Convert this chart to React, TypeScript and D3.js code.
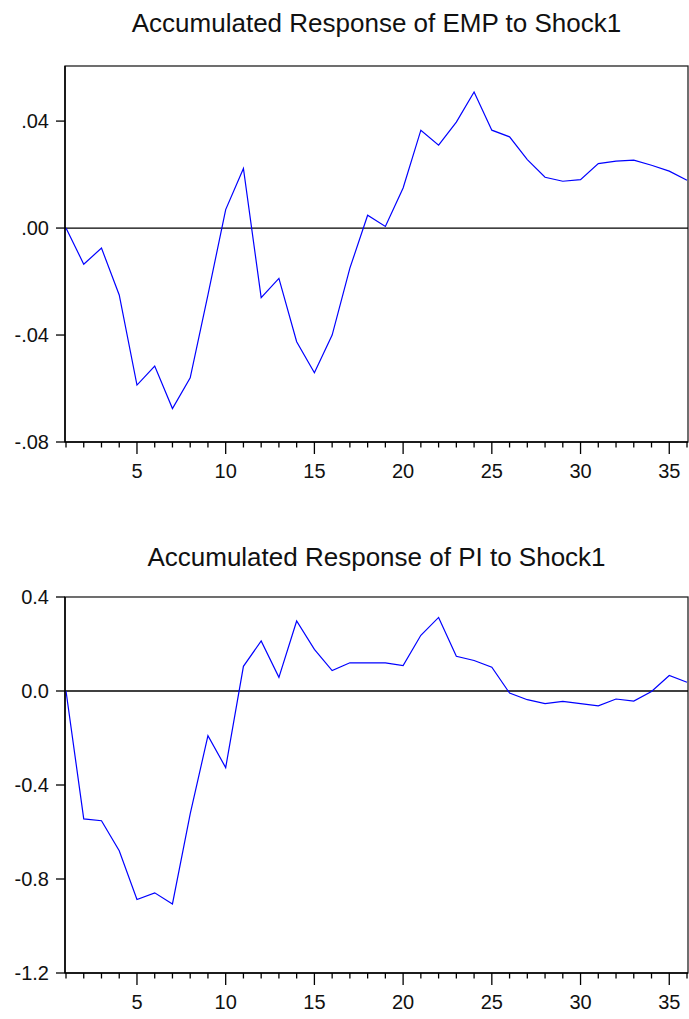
import React from "react";
import * as d3 from "d3";

// Response horizon (periods)
const periods: number[] = d3.range(1, 37);

// Accumulated response of EMP to Shock1
const empResponse: number[] = [
  0.0, -0.0135, -0.0075, -0.025, -0.0587, -0.0516, -0.0675, -0.056, -0.025, 0.0069,
  0.0223, -0.026, -0.0188, -0.0425, -0.0541, -0.04, -0.015, 0.0048, 0.0006, 0.015,
  0.0366, 0.031, 0.0396, 0.0509, 0.0366, 0.0341, 0.0256, 0.019, 0.0175, 0.0181,
  0.0241, 0.025, 0.0254, 0.0235, 0.0213, 0.0179,
];

// Accumulated response of PI to Shock1
const piResponse: number[] = [
  0.0, -0.544, -0.552, -0.68, -0.887, -0.859, -0.906, -0.523, -0.19, -0.326,
  0.105, 0.213, 0.058, 0.298, 0.177, 0.087, 0.12, 0.12, 0.12, 0.108,
  0.237, 0.313, 0.148, 0.13, 0.101, -0.009, -0.037, -0.054, -0.044, -0.054,
  -0.063, -0.034, -0.043, -0.002, 0.066, 0.037,
];

const empTicks: number[] = [0.04, 0.0, -0.04, -0.08];
const empTickLabels: string[] = [".04", ".00", "-.04", "-.08"];
const piTicks: number[] = [0.4, 0.0, -0.4, -0.8, -1.2];
const piTickLabels: string[] = ["0.4", "0.0", "-0.4", "-0.8", "-1.2"];
const majorXTicks: number[] = [5, 10, 15, 20, 25, 30, 35];

const FONT = "'Liberation Sans', Arial, sans-serif";

interface PanelProps {
  title: string;
  values: number[];
  yDomain: [number, number];
  yTicks: number[];
  yTickLabels: string[];
  top: number;
  bottom: number;
  titleY: number;
}

function Panel({ title, values, yDomain, yTicks, yTickLabels, top, bottom, titleY }: PanelProps) {
  const left = 65;
  const right = 688;
  const x = d3.scaleLinear().domain([1, 36]).range([66, 687]);
  const y = d3.scaleLinear().domain(yDomain).range([bottom, top]);
  const line = d3
    .line<number>()
    .x((_, i) => x(periods[i]))
    .y((d) => y(d));

  return (
    <g>
      <text
        x={(left + right) / 2}
        y={titleY}
        textAnchor="middle"
        fontFamily={FONT}
        fontSize={26}
        fill="#111"
      >
        {title}
      </text>
      {/* frame */}
      <rect x={left} y={top} width={right - left} height={bottom - top} fill="none" stroke="#222" strokeWidth={1.3} />
      {/* zero line */}
      <line x1={left} x2={right} y1={y(0)} y2={y(0)} stroke="#000" strokeWidth={1.3} />
      {/* response line */}
      <path d={line(values) ?? ""} fill="none" stroke="#0000ff" strokeWidth={1.2} />
      {/* left axis */}
      <line x1={left} x2={left} y1={top} y2={bottom} stroke="#000" strokeWidth={1.5} />
      {yTicks.map((t, i) => (
        <g key={`y${i}`}>
          <line x1={left - 9} x2={left} y1={y(t)} y2={y(t)} stroke="#000" strokeWidth={1.3} />
          <text
            x={49}
            y={y(t)}
            dy="0.36em"
            textAnchor="end"
            fontFamily={FONT}
            fontSize={20}
            fill="#111"
          >
            {yTickLabels[i]}
          </text>
        </g>
      ))}
      {/* bottom axis */}
      <line x1={left} x2={right} y1={bottom} y2={bottom} stroke="#000" strokeWidth={1.5} />
      {periods.map((p) => {
        const major = majorXTicks.includes(p);
        return (
          <line
            key={`x${p}`}
            x1={x(p)}
            x2={x(p)}
            y1={bottom}
            y2={bottom + (major ? 12 : 5.5)}
            stroke="#000"
            strokeWidth={1.3}
          />
        );
      })}
      {majorXTicks.map((p) => (
        <text
          key={`xl${p}`}
          x={x(p)}
          y={bottom + 36}
          textAnchor="middle"
          fontFamily={FONT}
          fontSize={20}
          fill="#111"
        >
          {p}
        </text>
      ))}
    </g>
  );
}

export default function App() {
  return (
    <svg
      width={689}
      height={1019}
      style={{ position: "absolute", left: 0, top: 0, background: "#fff" }}
    >
      <rect x={0} y={0} width={689} height={1019} fill="#fff" />
      <Panel
        title="Accumulated Response of EMP to Shock1"
        values={empResponse}
        yDomain={[-0.08, 0.0606]}
        yTicks={empTicks}
        yTickLabels={empTickLabels}
        top={66}
        bottom={442}
        titleY={32}
      />
      <Panel
        title="Accumulated Response of PI to Shock1"
        values={piResponse}
        yDomain={[-1.2, 0.4]}
        yTicks={piTicks}
        yTickLabels={piTickLabels}
        top={597}
        bottom={973}
        titleY={566}
      />
    </svg>
  );
}
